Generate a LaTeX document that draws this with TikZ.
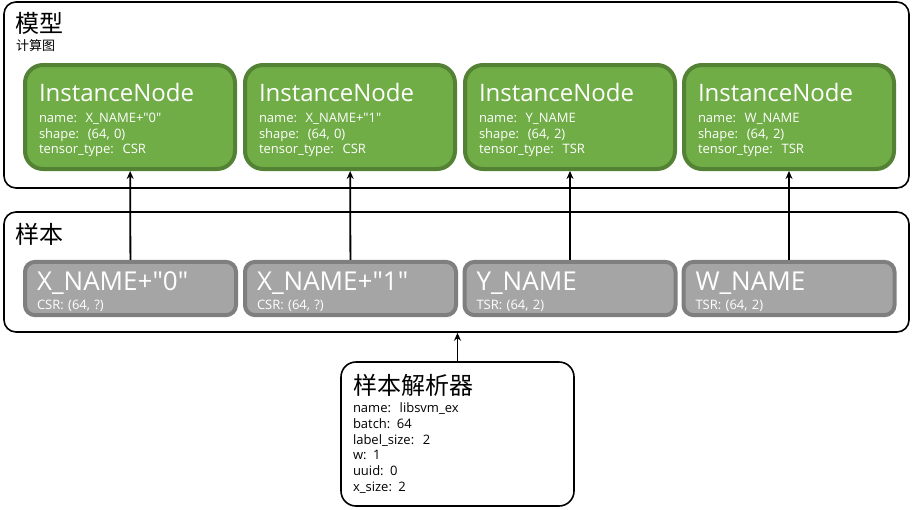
\documentclass[tikz,border=0pt]{standalone}
\usepackage{fontspec}
\setmainfont{Open Sans}
\newfontfamily\cjk{Noto Sans CJK SC}
\usetikzlibrary{arrows.meta}
\definecolor{instfill}{HTML}{70AD47}
\definecolor{instline}{HTML}{548235}
\definecolor{smpfill}{HTML}{A5A5A5}
\definecolor{smpline}{HTML}{7F7F7F}
\newcommand{\bigname}[1]{{\fontsize{24}{28}\selectfont\rule{0pt}{24.5pt}#1}}
\newcommand{\smpname}[1]{{\fontsize{26}{30}\selectfont\rule{0pt}{25pt}#1}}
\newcommand{\qt}{\textquotedbl}
\tikzset{
	panel/.style={draw, line width=1.6pt, rounded corners=12pt},
	inst/.style={draw=instline, fill=instfill, line width=4pt, rounded corners=18pt, text=white,
		minimum width=210pt, minimum height=104pt, text width=182pt, inner xsep=14pt,
		align=left, font=\fontsize{13}{15.5}\selectfont},
	smp/.style={draw=smpline, fill=smpfill, line width=4pt, rounded corners=10pt, text=white,
		minimum width=211pt, minimum height=51pt, text width=187pt, inner xsep=12pt,
		align=left, font=\fontsize{13}{15.5}\selectfont},
	title/.style={anchor=base west, inner sep=0pt, font=\cjk\fontsize{24}{28}\selectfont},
	link/.style={-{Stealth[length=8pt,width=7pt]}, line width=1.8pt}
}

\begin{document}
\begin{tikzpicture}[x=1pt, y=-1pt]
	\useasboundingbox (0,0) rectangle (912,509);
	
	% panels
	\node[panel, minimum width=905pt, minimum height=186pt] (model) at (456.5,95) {};
	\node[panel, minimum width=905pt, minimum height=120pt] (sample) at (456.5,272) {};
	
	\node[title] (modeltitle) at (15,32) {模型};
	\node[title, font=\cjk\fontsize{13}{15}\selectfont] (graphlabel) at (16,50) {计算图};
	\node[title] (sampletitle) at (15,243) {样本};
	
	% instance nodes
	\node[inst] (i1) at (130,117) {\bigname{InstanceNode}\\[6pt] name:\ \ X\_NAME+\qt0\qt\\ shape:\ \ (64, 0)\\ tensor\_type:\ \ CSR};
	\node[inst] (i2) at (350,117) {\bigname{InstanceNode}\\[6pt] name:\ \ X\_NAME+\qt1\qt\\ shape:\ \ (64, 0)\\ tensor\_type:\ \ CSR};
	\node[inst] (i3) at (570,117) {\bigname{InstanceNode}\\[6pt] name:\ \ Y\_NAME\\ shape:\ \ (64, 2)\\ tensor\_type:\ \ TSR};
	\node[inst] (i4) at (789,117) {\bigname{InstanceNode}\\[6pt] name:\ \ W\_NAME\\ shape:\ \ (64, 2)\\ tensor\_type:\ \ TSR};
	
	% samples
	\node[smp] (s1) at (130.5,288.5) {\smpname{X\_NAME+\qt0\qt}\\[4pt] CSR: (64, ?)};
	\node[smp] (s2) at (350.5,288.5) {\smpname{X\_NAME+\qt1\qt}\\[4pt] CSR: (64, ?)};
	\node[smp] (s3) at (570,288.5) {\smpname{Y\_NAME}\\[4pt] TSR: (64, 2)};
	\node[smp] (s4) at (789,288.5) {\smpname{W\_NAME}\\[4pt] TSR: (64, 2)};
	
	% parser
	\node[panel, rounded corners=15pt, minimum width=233pt, minimum height=144pt, text width=209pt,
		inner xsep=12pt, align=left, font=\fontsize{13}{15.8}\selectfont] (parser) at (457.5,434)
		{{\cjk\fontsize{24}{28}\selectfont 样本解析器}\\[2pt] name:\ \ libsvm\_ex\\ batch: 64\\ label\_size:\ \ 2\\ w: 1\\ uuid: 0\\ x\_size: 2};
	
	% arrows
	\foreach \k in {1,...,4}
		\draw[link] (s\k) -- (i\k);
	\draw[link] (parser.north) -- (parser.north |- sample.south);
\end{tikzpicture}
\end{document}
